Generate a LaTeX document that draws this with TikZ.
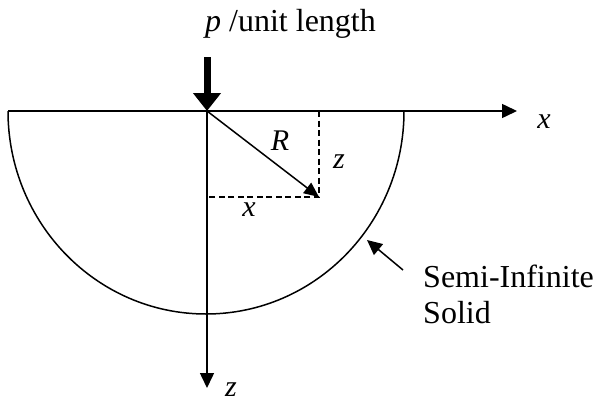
\documentclass[tikz,border=0pt]{standalone}
\usepackage{fontspec}
\setmainfont{Liberation Serif}
\usetikzlibrary{arrows.meta}
\begin{document}
\begin{tikzpicture}[x=1pt,y=-1pt,
  txt/.style={inner sep=0pt,font=\fontsize{32}{36}\selectfont},
  lbl/.style={inner sep=0pt,font=\fontsize{30}{34}\selectfont\itshape},
  ln/.style={line width=1.5pt},
  tip/.style={-{Triangle[length=15pt,width=14pt]}},
  dsh/.style={line width=1.3pt,dash pattern=on 6pt off 3.5pt}]
\useasboundingbox (0,0) rectangle (593,404);
% coordinates
\coordinate (O) at (207,111);
\coordinate (L) at (8,111);
\coordinate (XE) at (517,111);
\coordinate (ZE) at (207,388);
\coordinate (P) at (319,197);
\coordinate (PT) at (319,111);
\coordinate (PL) at (207,197);
\coordinate (LT) at (207,57);
\coordinate (ST) at (403,270);
\coordinate (SH) at (367,240);
% semicircle
\draw[ln] (L) arc[start angle=180,end angle=0,x radius=198,y radius=203];
% axes
\draw[ln,tip] (L) -- (XE);
\draw[ln,tip] (O) -- (ZE);
% load
\draw[line width=7pt,-{Triangle[length=18pt,width=27pt]}] (LT) -- (O);
% radius
\draw[ln,-{Triangle[length=15pt,width=13pt]}] (O) -- (P);
% dashed
\draw[dsh] (PT) -- (P) -- (PL);
% solid pointer
\draw[ln,tip] (ST) -- (SH);
% labels
\node[txt,anchor=base west] (load) at (205,32) {\textit{p} /unit length};
\node[lbl] (R) at (280,141) {R};
\node[lbl] (zl) at (339,162) {z};
\node[lbl] (xl) at (249,210) {x};
\node[lbl] (xa) at (544,122) {x};
\node[lbl] (za) at (231,390) {z};
\node[txt,anchor=base west] (semi) at (423,287) {Semi-Infinite};
\node[txt,anchor=base west] (solid) at (423,323) {Solid};
\end{tikzpicture}
\end{document}
